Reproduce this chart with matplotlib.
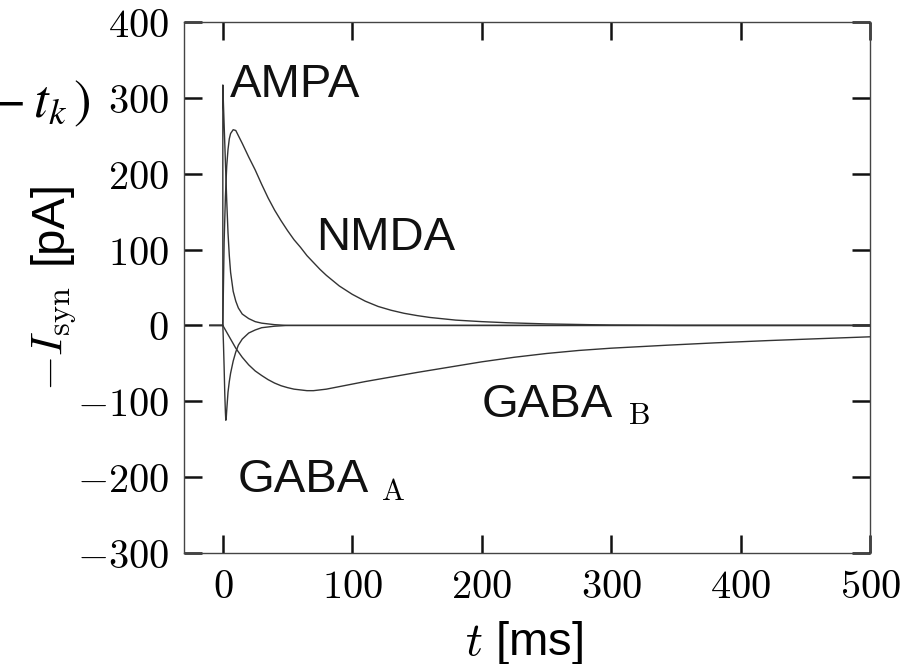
import matplotlib
matplotlib.use("Agg")
import matplotlib.pyplot as plt

plt.rcParams['mathtext.fontset'] = 'cm'
plt.rcParams['font.family'] = ['Liberation Sans', 'DejaVu Sans']

# values (t in ms, current in pA)
t_ampa = [-10, 0, 0, 0.5, 1, 2, 3, 4, 5, 6, 8, 10, 12, 15, 20, 25, 30, 40, 50, 500]
i_ampa = [0, 0, 317, 290, 265, 215, 165, 122, 92, 70, 45, 32, 23, 15, 9, 5, 3, 1, 0, 0]

t_nmda = [-10, 0, 1, 2, 3, 4, 5, 6, 8, 10, 15, 20, 25, 30, 35, 40, 45, 50, 55, 60,
          65, 70, 75, 80, 90, 100, 110, 120, 130, 140, 150, 160, 180, 200, 220,
          250, 300, 350, 500]
i_nmda = [0, 0, 110, 170, 210, 232, 246, 253, 258, 257, 240, 222, 205, 186, 168,
          152, 138, 125, 113, 103, 92, 83, 74, 66, 52, 41, 32, 25, 20, 16, 13,
          10.5, 7, 5, 3.5, 2, 0.5, 0, 0]

t_gaba_a = [-10, 0, 0.5, 1, 1.5, 2, 2.3, 2.6, 3, 4, 5, 6, 8, 10, 12, 15, 20, 25,
            30, 40, 50, 500]
i_gaba_a = [0, 0, -25, -55, -90, -115, -125, -123, -112, -88, -74, -63, -47, -35,
            -26, -18, -10, -6, -3, -1, 0, 0]

t_gaba_b = [-10, 0, 2, 4, 6, 8, 10, 15, 20, 25, 30, 35, 40, 45, 50, 55, 60, 65, 70,
            80, 95, 110, 130, 150, 175, 200, 225, 250, 275, 300, 344, 380, 421,
            460, 500]
i_gaba_b = [0, 0, -6, -12, -18, -24, -30, -42, -52, -60, -66, -71.5, -76, -79.5,
            -82, -84, -85, -86, -86, -84, -79, -74, -68, -62, -55, -48, -42, -37,
            -33, -30, -26, -23, -20, -17.5, -15]

xticks = [0, 100, 200, 300, 400, 500]
yticks = [-300, -200, -100, 0, 100, 200, 300, 400]
xtick_labels = ['$0$', '$100$', '$200$', '$300$', '$400$', '$500$']
ytick_labels = ['$-300$', '$-200$', '$-100$', '$0$', '$100$', '$200$', '$300$', '$400$']

fig = plt.figure(figsize=(9.11, 6.64), dpi=100)
ax = fig.add_axes([184 / 911, 111 / 664, 686 / 911, 531 / 664])

line_kw = dict(color='#333333', lw=1.0)
ax.plot(t_ampa, i_ampa, **line_kw)
ax.plot(t_nmda, i_nmda, **line_kw)
ax.plot(t_gaba_a, i_gaba_a, **line_kw)
ax.plot(t_gaba_b, i_gaba_b, **line_kw)

ax.set_xlim(-30, 500)
ax.set_ylim(-300, 400)
ax.set_xticks(xticks, labels=xtick_labels)
ax.set_yticks(yticks, labels=ytick_labels)
ax.tick_params(direction='in', length=13, width=1.8, color='#111111',
               top=True, right=True, labelsize=29, pad=11)
for sp in ax.spines.values():
    sp.set_color('#444444')
    sp.set_linewidth(1.0)

# curve names
lab_kw = dict(fontsize=34, color='#111111', ha='left', va='baseline')
ax.text(5.6, 301, 'AMPA', **lab_kw)
ax.text(71.8, 99.5, 'NMDA', **lab_kw)
ax.text(11.8, -219.5, 'GABA', **lab_kw)
ax.text(200, -120.6, 'GABA', **lab_kw)
ax.text(122.5, -230.5, r'$\mathrm{A}$', fontsize=22, ha='left', va='baseline')
ax.text(313, -130, r'$\mathrm{B}$', fontsize=22, ha='left', va='baseline')

# axis labels
fig.text(62 / 911, (664 - 339) / 664, r'$-I_{\rm syn}$', fontsize=33,
         rotation=90, rotation_mode='anchor', ha='center', va='baseline')
fig.text(62 / 911, (664 - 221.5) / 664, '[pA]', fontsize=34,
         rotation=90, rotation_mode='anchor', ha='center', va='baseline')
fig.text(524.5 / 911, 9 / 664, '$t$ [ms]', fontsize=34, ha='center', va='baseline')

# tail of an equation that sits at the left edge
fig.text(90 / 911, (664 - 117) / 664, r'${}-t_k\,)$', fontsize=38,
         math_fontfamily='stix', ha='right', va='baseline')

fig.savefig('out.png', dpi=100)
